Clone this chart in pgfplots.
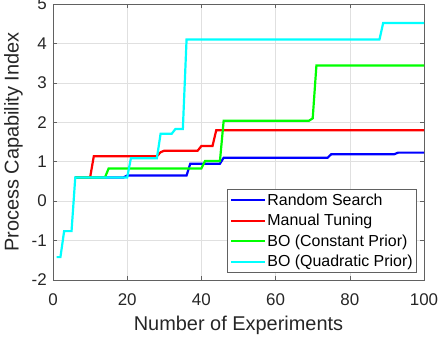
\documentclass[border=0pt]{standalone}
\usepackage{pgfplots}
\pgfplotsset{compat=1.18}
\usepackage{fontspec}
\setmainfont{Liberation Sans}
\definecolor{axgray}{rgb}{0.38,0.38,0.38}
\definecolor{txtgray}{rgb}{0.15,0.15,0.15}
\definecolor{gridgray}{rgb}{0.88,0.88,0.88}
\definecolor{mblue}{rgb}{0,0,1}
\definecolor{mred}{rgb}{1,0,0}
\definecolor{mgreen}{rgb}{0,1,0}
\definecolor{mcyan}{rgb}{0,1,1}
\begin{document}
\begin{tikzpicture}
\path[use as bounding box] (-53bp,-62bp) rectangle (386bp,280bp);
\begin{axis}[
  at={(0,0)}, anchor=south west,
  scale only axis, width=371bp, height=276bp,
  xmin=0, xmax=100, ymin=-2, ymax=5,
  xtick={0,20,40,60,80,100},
  xticklabels={0,20,40,60,80,100},
  ytick={-2,-1,0,1,2,3,4,5},
  yticklabels={-2,-1,0,1,2,3,4,5},
  grid=major,
  major grid style={gridgray, line width=0.5bp},
  axis line style={axgray, line width=0.6bp},
  tick style={axgray, line width=0.6bp},
  tick align=inside,
  major tick length=4bp,
  xtick pos=both, ytick pos=both,
  tick label style={font=\fontsize{17}{20}\selectfont, text=txtgray, inner sep=0pt},
  xticklabel style={anchor=north, yshift=-13bp},
  yticklabel style={anchor=east, xshift=-6bp},
  xlabel={Number of Experiments},
  ylabel={Process Capability Index},
  label style={font=\fontsize{20}{24}\selectfont, text=txtgray, inner sep=0pt},
  xlabel style={at={(axis description cs:0.5,0)}, anchor=base, yshift=-50bp},
  ylabel style={at={(axis description cs:0,0.5)}, anchor=south, yshift=30bp},
  legend style={at={(rel axis cs:1,0)}, anchor=south east, xshift=-7bp, yshift=7bp,
    draw=axgray, line width=0.6bp, fill=white, font=\fontsize{16}{18}\selectfont,
    text=black, inner xsep=3bp, inner ysep=3.5bp, row sep=5.5bp,
    nodes={inner sep=1bp}},
  legend cell align=left,
  legend image code/.code={\draw[#1, line width=2bp] (0bp,0bp) -- (34bp,0bp);},
  every axis plot/.append style={line width=2.2bp},
]
\addplot[mblue] coordinates {(6,0.6) (19,0.6) (20,0.65) (36,0.65) (37,0.95) (45,0.95) (46,1.10) (74,1.10) (75,1.19) (92,1.19) (93,1.23) (100,1.23)};
\addlegendentry{Random Search}
\addplot[mred] coordinates {(6,0.6) (10,0.6) (11,1.14) (28,1.14) (29,1.24) (30,1.28) (39,1.28) (40,1.40) (43,1.40) (44,1.80) (100,1.80)};
\addlegendentry{Manual Tuning}
\addplot[mgreen] coordinates {(6,0.6) (14,0.6) (15,0.83) (40,0.83) (41,1.02) (45,1.02) (46,2.04) (69,2.04) (70,2.10) (71,3.44) (100,3.44)};
\addlegendentry{BO (Constant Prior)}
\addplot[mcyan] coordinates {(1,-1.42) (2,-1.42) (3,-0.76) (5,-0.76) (6,0.6) (20,0.6) (21,1.09) (28,1.09) (29,1.71) (32,1.71) (33,1.83) (35,1.83) (36,4.10) (88,4.10) (89,4.52) (100,4.52)};
\addlegendentry{BO (Quadratic Prior)}
\end{axis}
\end{tikzpicture}
\end{document}
